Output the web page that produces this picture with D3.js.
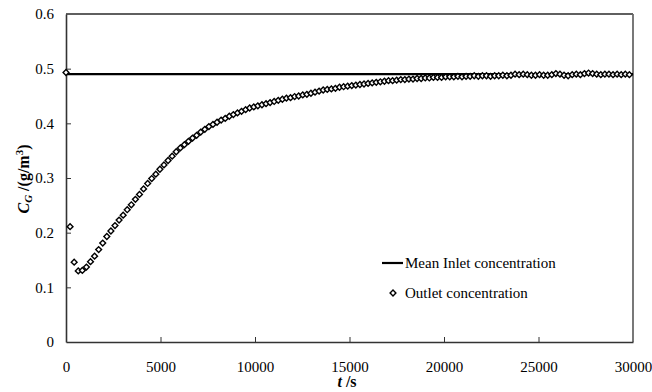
<!DOCTYPE html>
<html>
<head>
<meta charset="utf-8">
<script src="https://cdn.jsdelivr.net/npm/d3@7"></script>
<style>
  html, body { margin: 0; padding: 0; background: #fff; }
  svg { display: block; font-family: "Liberation Serif", "Times New Roman", serif; }
</style>
</head>
<body>
<svg id="chart" width="652" height="392"></svg>
<script>
// ---- Data ----
const xTicks = [0, 5000, 10000, 15000, 20000, 25000, 30000];
const yTicks = [0, 0.1, 0.2, 0.3, 0.4, 0.5, 0.6];
const yTickLabels = ["0", "0.1", "0.2", "0.3", "0.4", "0.5", "0.6"];
const meanInlet = 0.49;
const legendLabels = ["Mean Inlet concentration", "Outlet concentration"];

const outletTime = [
  0, 216, 432, 648, 864, 1080, 1296, 1512, 1728, 1944,
  2160, 2376, 2592, 2808, 3024, 3240, 3456, 3672, 3888, 4104,
  4320, 4536, 4752, 4968, 5184, 5400, 5616, 5832, 6048, 6264,
  6480, 6696, 6912, 7128, 7344, 7560, 7776, 7992, 8208, 8424,
  8640, 8856, 9072, 9288, 9504, 9720, 9936, 10152, 10368, 10584,
  10800, 11016, 11232, 11448, 11664, 11880, 12096, 12312, 12528, 12744,
  12960, 13176, 13392, 13608, 13824, 14040, 14256, 14472, 14688, 14904,
  15120, 15336, 15552, 15768, 15984, 16200, 16416, 16632, 16848, 17064,
  17280, 17496, 17712, 17928, 18144, 18360, 18576, 18792, 19008, 19224,
  19440, 19656, 19872, 20088, 20304, 20520, 20736, 20952, 21168, 21384,
  21600, 21816, 22032, 22248, 22464, 22680, 22896, 23112, 23328, 23544,
  23760, 23976, 24192, 24408, 24624, 24840, 25056, 25272, 25488, 25704,
  25920, 26136, 26352, 26568, 26784, 27000, 27216, 27432, 27648, 27864,
  28080, 28296, 28512, 28728, 28944, 29160, 29376, 29592, 29808
];
const outletConc = [
  0.493, 0.211, 0.146, 0.130, 0.131, 0.137, 0.147, 0.157, 0.169, 0.181,
  0.193, 0.203, 0.213, 0.223, 0.232, 0.242, 0.251, 0.261, 0.270, 0.280,
  0.290, 0.299, 0.307, 0.316, 0.324, 0.332, 0.340, 0.348, 0.355, 0.361,
  0.367, 0.373, 0.378, 0.384, 0.389, 0.394, 0.398, 0.402, 0.406, 0.409,
  0.413, 0.416, 0.419, 0.422, 0.425, 0.428, 0.430, 0.432, 0.434, 0.436,
  0.438, 0.440, 0.442, 0.444, 0.446, 0.447, 0.449, 0.450, 0.452, 0.453,
  0.455, 0.457, 0.459, 0.461, 0.462, 0.463, 0.464, 0.466, 0.467, 0.468,
  0.469, 0.470, 0.471, 0.472, 0.473, 0.474, 0.475, 0.476, 0.477, 0.478,
  0.478, 0.479, 0.480, 0.480, 0.481, 0.481, 0.482, 0.482, 0.483, 0.483,
  0.484, 0.484, 0.484, 0.485, 0.485, 0.485, 0.486, 0.485, 0.486, 0.486,
  0.487, 0.486, 0.487, 0.487, 0.486, 0.487, 0.487, 0.488, 0.487, 0.488,
  0.490, 0.489, 0.490, 0.489, 0.488, 0.488, 0.489, 0.488, 0.488, 0.489,
  0.491, 0.490, 0.488, 0.487, 0.489, 0.490, 0.489, 0.491, 0.492, 0.491,
  0.490, 0.489, 0.490, 0.490, 0.489, 0.490, 0.489, 0.490, 0.489
];

// ---- Layout ----
const svg = d3.select("#chart");
const margin = { left: 66, right: 19, top: 14, bottom: 50 };
const W = 652, H = 392;
const x = d3.scaleLinear().domain([0, 30000]).range([margin.left, W - margin.right]);
const y = d3.scaleLinear().domain([0, 0.6]).range([H - margin.bottom, margin.top]);
const FS = 15;

// Plot frame: top & right borders
svg.append("line").attr("x1", x(0)).attr("x2", x(30000)).attr("y1", y(0.6)).attr("y2", y(0.6))
  .attr("stroke", "#2a2a2a").attr("stroke-width", 1.6);
svg.append("line").attr("x1", x(30000)).attr("x2", x(30000)).attr("y1", y(0.6)).attr("y2", y(0))
  .attr("stroke", "#6a6a6a").attr("stroke-width", 1.8);

// X axis (ticks inward)
const xAxis = d3.axisBottom(x).tickValues(xTicks).tickSizeInner(-5).tickSizeOuter(0).tickPadding(19)
  .tickFormat(d3.format("d"));
const gx = svg.append("g").attr("transform", `translate(0,${y(0)})`).call(xAxis);
gx.select(".domain").attr("stroke", "#333").attr("stroke-width", 1.6);
gx.selectAll(".tick line").attr("stroke", "#333").attr("stroke-width", 1);
gx.selectAll(".tick text").attr("font-family", "Liberation Serif").attr("font-size", FS).attr("fill", "#000");
gx.selectAll(".tick").filter(d => d === 0 || d === 30000).select("line").remove();

// Y axis (ticks inward)
const yAxis = d3.axisLeft(y).tickValues(yTicks).tickSizeInner(-5).tickSizeOuter(0).tickPadding(12)
  .tickFormat((d, i) => yTickLabels[i]);
const gy = svg.append("g").attr("transform", `translate(${x(0)},0)`).call(yAxis);
gy.select(".domain").attr("stroke", "#333").attr("stroke-width", 1.6);
gy.selectAll(".tick line").attr("stroke", "#333").attr("stroke-width", 1);
gy.selectAll(".tick text").attr("font-family", "Liberation Serif").attr("font-size", FS).attr("fill", "#000");
gy.selectAll(".tick").filter(d => d === 0 || d === 0.6).select("line").remove();

// Mean inlet line
svg.append("line").attr("x1", x(0)).attr("x2", x(30000)).attr("y1", y(meanInlet)).attr("y2", y(meanInlet))
  .attr("stroke", "#000").attr("stroke-width", 2.2);

// Outlet diamonds (rotated squares)
const diamond = d3.symbol().type(d3.symbolSquare).size(17);
svg.append("g").selectAll("path").data(outletTime.map((t, i) => [t, outletConc[i]])).join("path")
  .attr("d", diamond)
  .attr("transform", d => `translate(${x(d[0])},${y(d[1])}) rotate(45)`)
  .attr("fill", "#fff").attr("stroke", "#000").attr("stroke-width", 1.4);

// Legend
const lg = svg.append("g");
lg.append("line").attr("x1", 382).attr("x2", 403).attr("y1", 263).attr("y2", 263)
  .attr("stroke", "#000").attr("stroke-width", 2.2);
lg.append("text").attr("x", 405).attr("y", 268).attr("font-size", FS).text(legendLabels[0]);
lg.append("path").attr("d", diamond).attr("transform", "translate(393,293) rotate(45)")
  .attr("fill", "#fff").attr("stroke", "#000").attr("stroke-width", 1.4);
lg.append("text").attr("x", 405).attr("y", 298).attr("font-size", FS).text(legendLabels[1]);

// X axis title
const xt = svg.append("text").attr("x", 347).attr("y", 387).attr("text-anchor", "middle")
  .attr("font-size", 16).attr("font-weight", "bold");
xt.append("tspan").attr("font-style", "italic").text("t");
xt.append("tspan").text(" /s");

// Y axis title
const yt = svg.append("text").attr("transform", "translate(29,179) rotate(-90)").attr("text-anchor", "middle")
  .attr("font-size", 16).attr("font-weight", "bold");
yt.append("tspan").attr("font-style", "italic").text("C");
yt.append("tspan").attr("font-style", "italic").attr("font-size", 11).attr("dy", 3).text("G");
yt.append("tspan").attr("dy", -3).text(" /(g/m");
yt.append("tspan").attr("font-size", 11).attr("dy", -6).text("3");
yt.append("tspan").attr("dy", 6).text(")");
</script>
</body>
</html>
